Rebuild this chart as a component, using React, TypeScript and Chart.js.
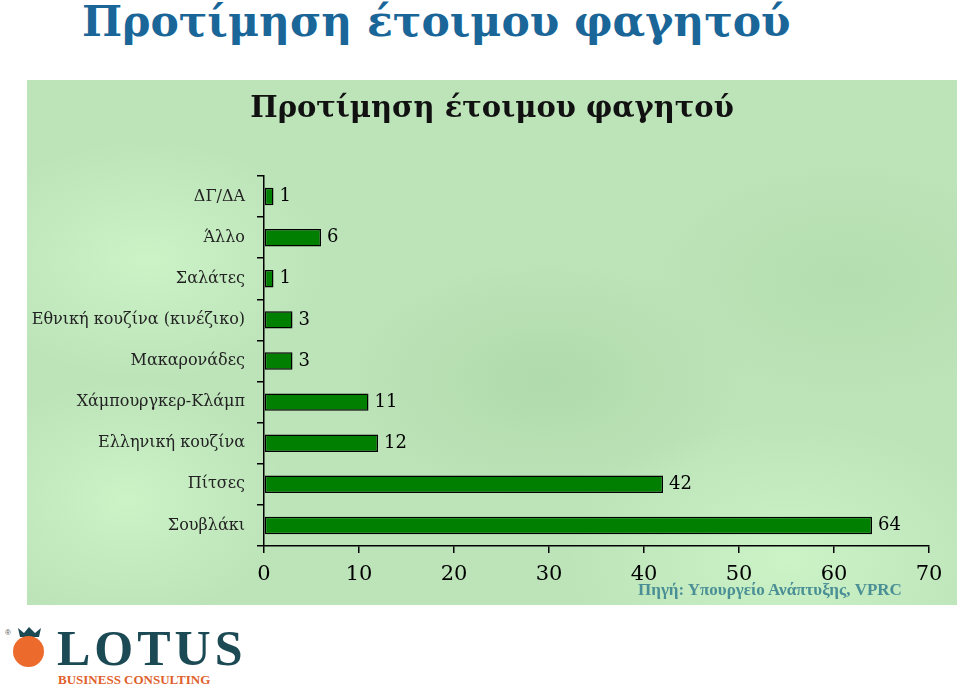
import React, { useEffect, useRef } from "react";
import { Chart, registerables } from "chart.js";

Chart.register(...registerables);

const categories = [
  "ΔΓ/ΔΑ",
  "Άλλο",
  "Σαλάτες",
  "Εθνική κουζίνα (κινέζικο)",
  "Μακαρονάδες",
  "Χάμπουργκερ-Κλάμπ",
  "Ελληνική κουζίνα",
  "Πίτσες",
  "Σουβλάκι",
];
const values = [1, 6, 1, 3, 3, 11, 12, 42, 64];
const xTicks = [0, 10, 20, 30, 40, 50, 60, 70];

const pageTitle = "Προτίμηση έτοιμου φαγητού";
const chartTitle = "Προτίμηση έτοιμου φαγητού";
const sourceText = "Πηγή: Υπουργείο Ανάπτυξης, VPRC";

const serif = "'DejaVu Serif', serif";

const valueLabels = {
  id: "valueLabels",
  afterDatasetsDraw(chart: any) {
    const { ctx } = chart;
    const meta = chart.getDatasetMeta(0);
    ctx.save();
    ctx.font = `18px ${serif}`;
    ctx.fillStyle = "#000";
    ctx.textAlign = "left";
    ctx.textBaseline = "middle";
    meta.data.forEach((bar: any, i: number) => {
      ctx.fillText(String(values[i]), bar.x + 6, bar.y);
    });
    ctx.restore();
  },
};

function BarChart() {
  const ref = useRef<HTMLCanvasElement | null>(null);
  useEffect(() => {
    if (!ref.current) return;
    const chart = new Chart(ref.current, {
      type: "bar",
      data: {
        labels: categories,
        datasets: [
          {
            data: values,
            backgroundColor: "#007f00",
            borderColor: "#000",
            borderWidth: 1.5,
            borderSkipped: false,
            categoryPercentage: 0.8,
            barPercentage: 0.53,
          },
        ],
      },
      options: {
        indexAxis: "y",
        animation: false,
        responsive: false,
        maintainAspectRatio: false,
        layout: { padding: { top: 96, right: 28, left: 0, bottom: 0 } },
        plugins: {
          legend: { display: false },
          title: { display: false },
          tooltip: { enabled: false },
        },
        scales: {
          x: {
            min: 0,
            max: 70,
            afterBuildTicks: (axis: any) => {
              axis.ticks = xTicks.map((v) => ({ value: v }));
            },
            afterFit: (axis: any) => {
              axis.height = 59;
            },
            ticks: {
              color: "#000",
              font: { family: serif, size: 21 },
              padding: 9,
              maxRotation: 0,
            },
            grid: {
              drawOnChartArea: false,
              drawTicks: true,
              tickLength: 7,
              color: "#000",
              lineWidth: 1.5,
            },
            border: { color: "#000", width: 1.5 },
          },
          y: {
            afterFit: (axis: any) => {
              axis.width = 237;
            },
            ticks: {
              color: "#222",
              font: { family: serif, size: 16 },
              padding: 12,
            },
            grid: {
              offset: true,
              drawOnChartArea: false,
              drawTicks: true,
              tickLength: 7,
              color: "#000",
              lineWidth: 1.5,
            },
            border: { color: "#000", width: 1.5 },
          },
        },
      },
      plugins: [valueLabels],
    });
    return () => chart.destroy();
  }, []);
  return <canvas ref={ref} width={930} height={525} style={{ display: "block" }} />;
}

export default function App() {
  return (
    <div style={{ position: "absolute", left: 0, top: 0, width: 960, height: 692, background: "#fff", overflow: "hidden" }}>
      <div
        style={{
          position: "absolute",
          left: 82,
          top: 0,
          fontFamily: serif,
          fontWeight: "bold",
          fontSize: 42.5,
          color: "#1a6698",
          whiteSpace: "nowrap",
          lineHeight: "43px",
        }}
      >
        {pageTitle}
      </div>
      <div
        style={{
          position: "absolute",
          left: 27,
          top: 80,
          width: 930,
          height: 525,
          background:
            "radial-gradient(ellipse 180px 120px at 120px 180px, rgba(205,245,200,0.9), rgba(205,245,200,0) 100%)," +
            "radial-gradient(ellipse 200px 120px at 520px 300px, rgba(170,215,165,0.7), rgba(170,215,165,0) 100%)," +
            "radial-gradient(ellipse 220px 140px at 760px 480px, rgba(205,245,200,0.9), rgba(205,245,200,0) 100%)," +
            "radial-gradient(ellipse 160px 120px at 100px 420px, rgba(205,245,200,0.9), rgba(205,245,200,0) 100%)," +
            "radial-gradient(ellipse 200px 120px at 820px 200px, rgba(175,220,170,0.7), rgba(175,220,170,0) 100%)," +
            "#bde3b9",
        }}
      >
        <BarChart />
        <div
          style={{
            position: "absolute",
            left: 0,
            width: 930,
            top: 10,
            textAlign: "center",
            fontFamily: serif,
            fontWeight: "bold",
            fontSize: 29,
            color: "#111",
            whiteSpace: "nowrap",
          }}
        >
          {chartTitle}
        </div>
        <div
          style={{
            position: "absolute",
            left: 611,
            top: 500,
            fontFamily: "'Liberation Serif', serif",
            fontWeight: "bold",
            fontSize: 17,
            color: "#4a8f95",
            whiteSpace: "nowrap",
          }}
        >
          {sourceText}
        </div>
      </div>
      {/* Logo */}
      <div style={{ position: "absolute", left: 5, top: 628, fontSize: 8, color: "#555", fontFamily: "sans-serif" }}>®</div>
      <svg style={{ position: "absolute", left: 12, top: 626 }} width={36} height={44}>
        <polygon points="6,2 12,7 17,1 23,7 29,2 27,11 8,11" fill="#1b4a55" />
        <ellipse cx={16.5} cy={25.5} rx={15.5} ry={15.5} fill="#ec6a2c" />
      </svg>
      <div
        style={{
          position: "absolute",
          left: 57,
          top: 620,
          fontFamily: "'Liberation Serif', serif",
          fontWeight: "bold",
          fontSize: 50,
          color: "#1b4a55",
          letterSpacing: 4,
          whiteSpace: "nowrap",
          lineHeight: "56px",
        }}
      >
        LOTUS
      </div>
      <div
        style={{
          position: "absolute",
          left: 58,
          top: 672,
          fontFamily: "'Liberation Serif', serif",
          fontWeight: "bold",
          fontSize: 13,
          color: "#e0602c",
          whiteSpace: "nowrap",
          lineHeight: "16px",
        }}
      >
        BUSINESS CONSULTING
      </div>
    </div>
  );
}
